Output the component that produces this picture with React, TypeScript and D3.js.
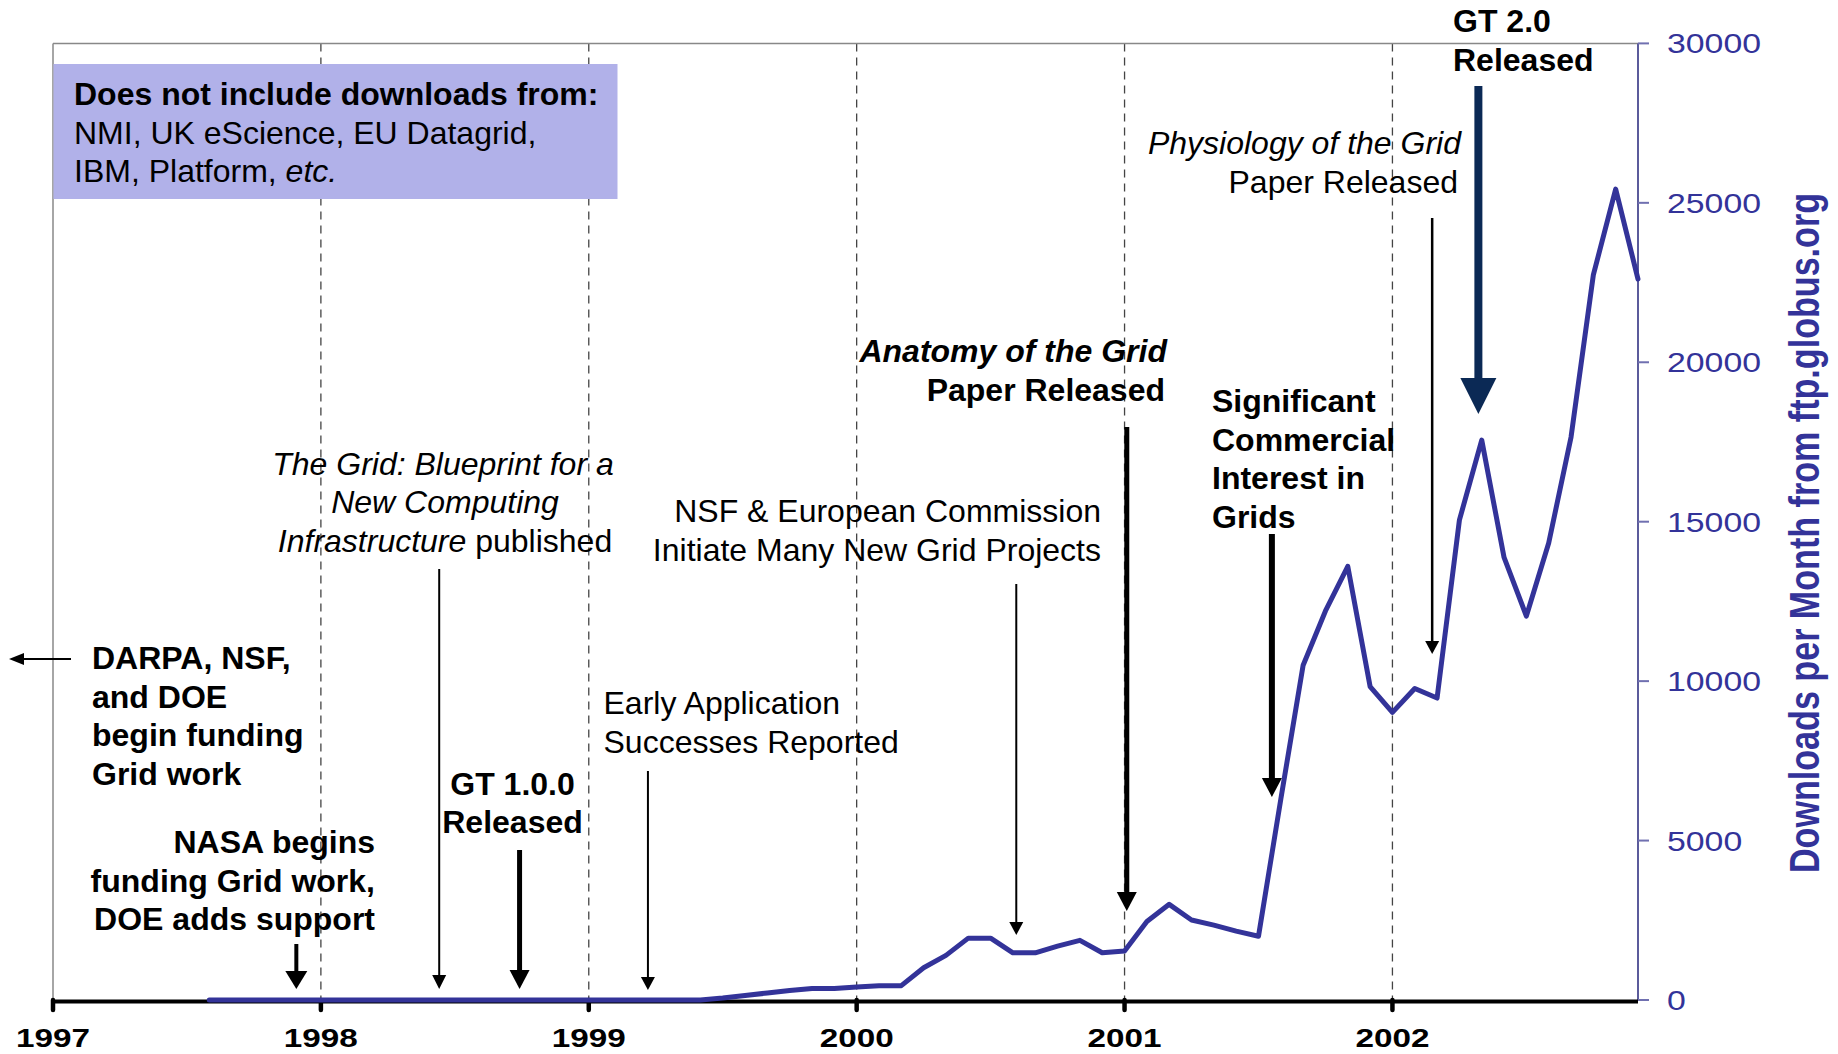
import * as d3 from 'd3';

// Monthly downloads from ftp.globus.org, Aug 1997 .. Dec 2002
const FIRST_MONTH = new Date(1997, 7, 1);
const LAST_MONTH = new Date(2002, 11, 1);
const DOWNLOADS = [
  0, 0, 0, 0, 0, // Aug-Dec 1997
  0, 0, 0, 0, 0, 0, 0, 0, 0, 0, 0, 0, // 1998
  0, 0, 0, 0, 0, 0, 60, 140, 220, 300, 360, 360, // 1999
  410, 450, 450, 1010, 1400, 1940, 1940, 1480, 1480, 1690, 1870, 1480, // 2000
  1540, 2460, 3000, 2510, 2350, 2160, 2000, 6300, 10500, 12200, 13600, 9830, // 2001
  9020, 9770, 9470, 15050, 17560, 13880, 12040, 14330, 17650, 22740, 25430, 22610, // 2002
];

const YEARS = [1997, 1998, 1999, 2000, 2001, 2002];
const GRID_YEARS = [1998, 1999, 2000, 2001, 2002];
const Y_TICKS = [0, 5000, 10000, 15000, 20000, 25000, 30000];

const W = 1838;
const H = 1054;
const PLOT = { left: 53, right: 1638, top: 43.4, bottom: 1000 };
const FONT = '"Liberation Sans", Arial, Helvetica, sans-serif';
const BLUE = '#333399';

// annotation arrows: x in months since Jan 1997, y in pixels
const ARROWS = [
  { month: 10.9, y1: 944, y2: 989, w: 4, head: 18, hw: 11, color: '#000' },
  { month: 17.3, y1: 569, y2: 989, w: 2, head: 14, hw: 7, color: '#000' },
  { month: 20.9, y1: 850, y2: 989, w: 5, head: 19, hw: 10, color: '#000' },
  { month: 26.65, y1: 771, y2: 990, w: 2, head: 13, hw: 7, color: '#000' },
  { month: 43.15, y1: 584, y2: 935, w: 2, head: 13, hw: 7, color: '#000' },
  { month: 48.1, y1: 427, y2: 911, w: 5, head: 19, hw: 10, color: '#000' },
  { month: 54.6, y1: 534, y2: 797, w: 6, head: 19, hw: 10, color: '#000' },
  { month: 61.78, y1: 218, y2: 654, w: 2.5, head: 13, hw: 7, color: '#000' },
  { month: 63.85, y1: 86, y2: 414, w: 8, head: 36, hw: 18, color: '#0b2955' },
];

const monthIndex = (d: Date) => d3.timeMonth.count(new Date(1997, 0, 1), d);

export default function App() {
  const months = d3.timeMonth.range(FIRST_MONTH, d3.timeMonth.offset(LAST_MONTH, 1));
  const data = months.map((d, i) => ({ m: monthIndex(d), v: DOWNLOADS[i] }));

  const x = d3.scaleLinear().domain([0, monthIndex(LAST_MONTH)]).range([PLOT.left, PLOT.right]);
  const y = d3.scaleLinear().domain([0, 30000]).range([PLOT.bottom, PLOT.top]);
  const yearX = (yr: number) => x((yr - 1997) * 12);

  const line = d3
    .line<{ m: number; v: number }>()
    .x((d) => x(d.m))
    .y((d) => y(d.v));

  const txt = { fontFamily: FONT, fontSize: 32, fill: '#000' };

  return (
    <svg
      width={W}
      height={H}
      viewBox={`0 0 ${W} ${H}`}
      style={{ position: 'absolute', left: 0, top: 0, background: '#fff' }}
    >
      {/* dashed year lines */}
      {GRID_YEARS.map((yr) => (
        <line
          key={yr}
          x1={yearX(yr)}
          x2={yearX(yr)}
          y1={PLOT.top}
          y2={PLOT.bottom}
          stroke="#444"
          strokeWidth={1.3}
          strokeDasharray="8 6"
        />
      ))}

      {/* frame */}
      <line x1={PLOT.left} x2={PLOT.right} y1={PLOT.top} y2={PLOT.top} stroke="#888" strokeWidth={1.5} />
      <line x1={PLOT.left} x2={PLOT.left} y1={PLOT.top} y2={PLOT.bottom} stroke="#888" strokeWidth={1.5} />
      <line x1={PLOT.right} x2={PLOT.right} y1={PLOT.top} y2={PLOT.bottom} stroke="#5b5b9b" strokeWidth={2} />

      {/* note box */}
      <rect x={53.5} y={64} width={564} height={135} fill="#b1b1e9" />
      <text {...txt} x={74} y={105} fontWeight="bold">Does not include downloads from:</text>
      <text {...txt} x={74} y={143.5}>NMI, UK eScience, EU Datagrid,</text>
      <text {...txt} x={74} y={182}>
        IBM, Platform, <tspan fontStyle="italic">etc.</tspan>
      </text>

      {/* right axis */}
      {Y_TICKS.map((t) => (
        <g key={t}>
          <line x1={PLOT.right} x2={PLOT.right + 11} y1={y(t)} y2={y(t)} stroke="#7070b0" strokeWidth={2} />
          <text
            x={1667}
            y={y(t) + 10}
            fontFamily={FONT}
            fontSize={28}
            fill={BLUE}
            textLength={String(t).length * 18.8}
            lengthAdjust="spacingAndGlyphs"
          >
            {t}
          </text>
        </g>
      ))}
      <text
        transform="translate(1819,533) rotate(-90)"
        textAnchor="middle"
        fontFamily={FONT}
        fontSize={43}
        fontWeight="bold"
        fill={BLUE}
        textLength={680}
        lengthAdjust="spacingAndGlyphs"
      >
        Downloads per Month from ftp.globus.org
      </text>

      {/* x axis */}
      <line x1={PLOT.left} x2={PLOT.right} y1={y(0) + 1.5} y2={y(0) + 1.5} stroke="#000" strokeWidth={4} />
      {YEARS.map((yr) => (
        <g key={yr}>
          <line
            x1={yearX(yr)}
            x2={yearX(yr)}
            y1={y(0)}
            y2={y(0) + 10}
            stroke="#000"
            strokeWidth={4.5}
            strokeLinecap="round"
          />
          <text
            x={yearX(yr)}
            y={1047}
            textAnchor="middle"
            fontFamily={FONT}
            fontSize={26}
            fontWeight="bold"
            textLength={74}
            lengthAdjust="spacingAndGlyphs"
          >
            {yr}
          </text>
        </g>
      ))}

      {/* downloads line */}
      <path
        d={line(data) ?? ''}
        fill="none"
        stroke={BLUE}
        strokeWidth={5}
        strokeLinejoin="round"
        strokeLinecap="round"
      />

      {/* arrows */}
      {ARROWS.map((a, i) => {
        const ax = x(a.month);
        return (
          <g key={i}>
            <line x1={ax} x2={ax} y1={a.y1} y2={a.y2 - a.head + 1} stroke={a.color} strokeWidth={a.w} />
            <path
              d={`M${ax - a.hw},${a.y2 - a.head} L${ax + a.hw},${a.y2 - a.head} L${ax},${a.y2} Z`}
              fill={a.color}
            />
          </g>
        );
      })}
      {/* left-pointing arrow for DARPA note */}
      <line x1={71} x2={22} y1={659} y2={659} stroke="#000" strokeWidth={2} />
      <path d="M9,659 L24,653 L24,665 Z" fill="#000" />

      {/* annotations */}
      <g {...txt} fontWeight="bold">
        <text x={1453} y={32}>GT 2.0</text>
        <text x={1453} y={71}>Released</text>
      </g>

      <g {...txt} textAnchor="end">
        <text x={1461} y={154} fontStyle="italic">Physiology of the Grid</text>
        <text x={1458} y={193}>Paper Released</text>
      </g>

      <g {...txt} textAnchor="end" fontWeight="bold">
        <text x={1167} y={362} fontStyle="italic">Anatomy of the Grid</text>
        <text x={1165} y={401}>Paper Released</text>
      </g>

      <g {...txt} fontWeight="bold">
        <text x={1212} y={412}>Significant</text>
        <text x={1212} y={450.5}>Commercial</text>
        <text x={1212} y={489}>Interest in</text>
        <text x={1212} y={527.5}>Grids</text>
      </g>

      <g {...txt} textAnchor="end">
        <text x={1101} y={522}>NSF &amp; European Commission</text>
        <text x={1101} y={561}>Initiate Many New Grid Projects</text>
      </g>

      <g {...txt} textAnchor="middle">
        <text x={443} y={474.5} fontStyle="italic">The Grid: Blueprint for a</text>
        <text x={445} y={513} fontStyle="italic">New Computing</text>
        <text x={445} y={551.5}>
          <tspan fontStyle="italic">Infrastructure</tspan> published
        </text>
      </g>

      <g {...txt}>
        <text x={603.5} y={714}>Early Application</text>
        <text x={603.5} y={752.5}>Successes Reported</text>
      </g>

      <g {...txt} fontWeight="bold">
        <text x={92} y={669}>DARPA, NSF,</text>
        <text x={92} y={707.5}>and DOE</text>
        <text x={92} y={746}>begin funding</text>
        <text x={92} y={784.5}>Grid work</text>
      </g>

      <g {...txt} fontWeight="bold" textAnchor="end">
        <text x={375} y={853}>NASA begins</text>
        <text x={375} y={891.5}>funding Grid work,</text>
        <text x={375} y={930}>DOE adds support</text>
      </g>

      <g {...txt} fontWeight="bold" textAnchor="middle">
        <text x={512.5} y={794.5}>GT 1.0.0</text>
        <text x={512.5} y={833}>Released</text>
      </g>
    </svg>
  );
}
